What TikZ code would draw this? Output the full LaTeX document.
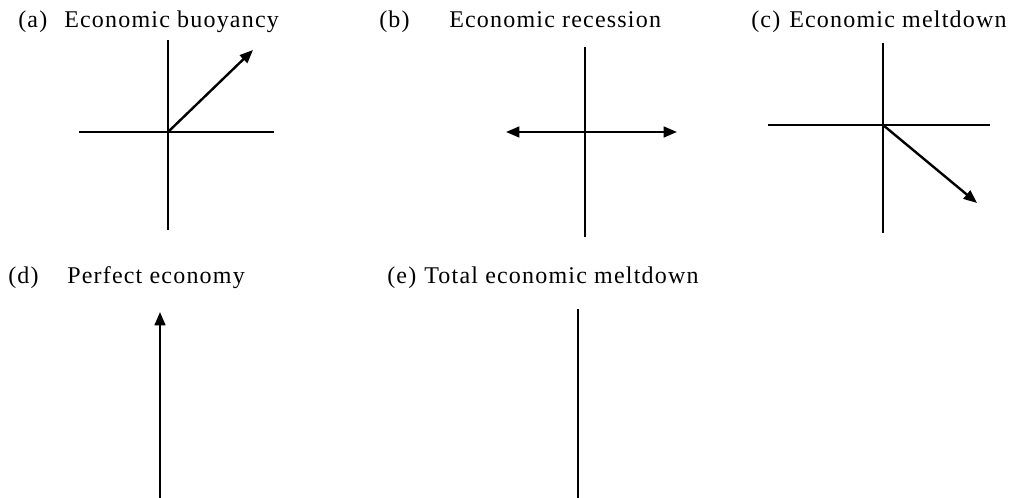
\documentclass[tikz,border=0pt]{standalone}
\usepackage{fontspec}
\setmainfont{Liberation Serif}
\newfontfamily\lblfont{Liberation Serif}[LetterSpace=5]
\usetikzlibrary{arrows.meta}
\begin{document}
\begin{tikzpicture}[x=0.75pt,y=-0.75pt,
  axis/.style={line width=1.5pt},
  vec/.style={line width=1.8pt,-{Triangle[length=10pt,width=8pt]}},
  lbl/.style={anchor=base west,inner sep=0pt,font=\lblfont\fontsize{18pt}{21pt}\selectfont}]
\useasboundingbox (0,0) rectangle (1011,498);
% labels row 1
\node[lbl] (la) at (18,28) {(a)};
\node[lbl] (ta) at (64,28) {Economic buoyancy};
\node[lbl] (lb) at (379,28) {(b)};
\node[lbl] (tb) at (449,28) {Economic recession};
\node[lbl] (lc) at (751,28) {(c)};
\node[lbl] (tc) at (789,28) {Economic meltdown};
% labels row 2
\node[lbl] (ld) at (8,284) {(d)};
\node[lbl] (td) at (67,284) {Perfect economy};
\node[lbl] (le) at (387,284) {(e)};
\node[lbl] (te) at (424,284) {Total economic meltdown};
% (a)
\coordinate (aT) at (168,40); \coordinate (aB) at (168,230);
\coordinate (aL) at (79,132); \coordinate (aR) at (274,132);
\coordinate (aO) at (168,132); \coordinate (aV) at (253,50);
\draw[axis] (aT) -- (aB);
\draw[axis] (aL) -- (aR);
\draw[vec] (aO) -- (aV);
% (b)
\coordinate (bT) at (585,47); \coordinate (bB) at (585,237);
\coordinate (bL) at (506,132); \coordinate (bR) at (677,132);
\draw[axis] (bT) -- (bB);
\draw[vec,{Triangle[length=10pt,width=8pt]}-{Triangle[length=10pt,width=8pt]}] (bL) -- (bR);
% (c)
\coordinate (cT) at (883,43); \coordinate (cB) at (883,233);
\coordinate (cL) at (768,125); \coordinate (cR) at (990,125);
\coordinate (cO) at (883,125); \coordinate (cV) at (977,203);
\draw[axis] (cT) -- (cB);
\draw[axis] (cL) -- (cR);
\draw[vec] (cO) -- (cV);
% (d)
\coordinate (dB) at (160,498); \coordinate (dT) at (160,312);
\draw[vec] (dB) -- (dT);
% (e)
\coordinate (eT) at (578,309); \coordinate (eB) at (578,498);
\draw[axis] (eT) -- (eB);
\end{tikzpicture}
\end{document}
